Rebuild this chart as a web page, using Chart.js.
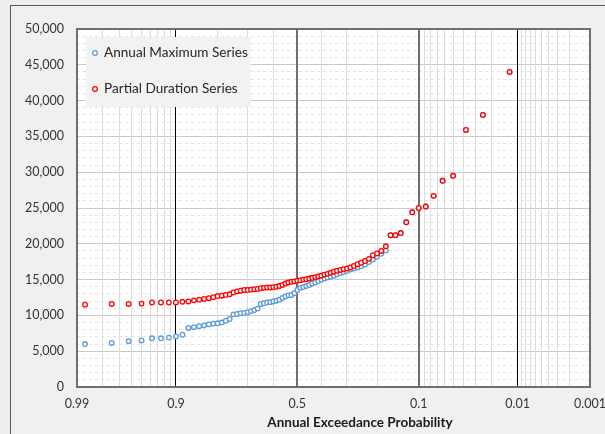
<!DOCTYPE html>
<html lang="en">
<head>
    <meta charset="UTF-8">
    <title>Annual Exceedance Probability</title>
    <style>
        html, body { margin: 0; padding: 0; }
        body { width: 605px; height: 434px; background: #eceeec; position: relative; overflow: hidden; }
        .frame { position: absolute; left: 10px; top: 5px; width: 620px; height: 450px;
                 border-left: 1.5px solid #5a5a5a; border-top: 1.5px solid #5a5a5a; background: #f0f0f0; }
        canvas { position: absolute; left: 0; top: 0; }
    </style>
</head>
<body>
    <div class="frame"></div>
    <canvas id="chart" width="605" height="434"></canvas>

    <script src="https://cdn.jsdelivr.net/npm/chart.js"></script>
    <script>

        // exceedance probability of each ranked value (left to right)
        var aep = [0.9875, 0.975, 0.9625, 0.95, 0.9375, 0.925, 0.9125, 0.9, 0.8875, 0.875,
                   0.8625, 0.85, 0.8375, 0.825, 0.8125, 0.8, 0.7875, 0.775, 0.7625, 0.75,
                   0.7375, 0.725, 0.7125, 0.7, 0.6875, 0.675, 0.6625, 0.65, 0.6375, 0.625,
                   0.6125, 0.6, 0.5875, 0.575, 0.5625, 0.55, 0.5375, 0.525, 0.5125, 0.5,
                   0.4875, 0.475, 0.4625, 0.45, 0.4375, 0.425, 0.4125, 0.4, 0.3875, 0.375,
                   0.3625, 0.35, 0.3375, 0.325, 0.3125, 0.3, 0.2875, 0.275, 0.2625, 0.25,
                   0.2375, 0.225, 0.2125, 0.2, 0.1875, 0.175, 0.1625, 0.15, 0.1375, 0.125,
                   0.1125, 0.1, 0.0875, 0.075, 0.0625, 0.05, 0.0375, 0.025, 0.0125];

        var annualMax = [6000, 6150, 6400, 6500, 6800, 6800, 6900, 7050, 7300, 8250,
                         8350, 8500, 8600, 8750, 8850, 8900, 9000, 9250, 9500, 10150,
                         10200, 10300, 10350, 10450, 10600, 10750, 10950, 11600, 11700, 11800,
                         11850, 11950, 12050, 12200, 12450, 12650, 12800, 12850, 13100, 13550,
                         13850, 13950, 14100, 14250, 14450, 14600, 14800, 15000, 15150, 15300,
                         15400, 15550, 15750, 15900, 16050, 16200, 16400, 16550, 16700, 16850,
                         17100, 17450, 17800, 18200, 18600, 19050, 21200, 21200, 21500, 23000,
                         24400, 25000, 25200, 26700, 28800, 29500, 35900, 38000, 44000];

        var partialDur = [11500, 11600, 11600, 11650, 11800, 11800, 11800, 11800, 11900, 11950,
                          12100, 12200, 12300, 12400, 12550, 12700, 12750, 12850, 12950, 13200,
                          13350, 13450, 13550, 13550, 13600, 13650, 13700, 13800, 13850, 13900,
                          13900, 13950, 14000, 14100, 14250, 14450, 14600, 14700, 14750, 14850,
                          14920, 15000, 15050, 15150, 15250, 15350, 15450, 15550, 15700, 15800,
                          15950, 16100, 16250, 16350, 16450, 16550, 16700, 16900, 17150, 17350,
                          17600, 17900, 18400, 18650, 19000, 19650, 21200, 21200, 21500, 23000,
                          24400, 25000, 25200, 26700, 28800, 29500, 35900, 38000, 44000];

        // probability grid
        var labelProbs = [0.99, 0.9, 0.5, 0.1, 0.01, 0.001];
        var labelText = ["0.99", "0.9", "0.5", "0.1", "0.01", "0.001"];
        var gridProbs = [0.99, 0.98, 0.97, 0.96, 0.95, 0.94, 0.93, 0.92, 0.91, 0.9,
                         0.8, 0.7, 0.6, 0.5, 0.4, 0.3, 0.2, 0.1,
                         0.09, 0.08, 0.07, 0.06, 0.05, 0.04, 0.03, 0.02, 0.01,
                         0.009, 0.008, 0.007, 0.006, 0.005, 0.004, 0.003, 0.002, 0.001];

        // inverse standard normal (Acklam)
        function normInv(p) {
            var a = [-3.969683028665376e+01, 2.209460984245205e+02, -2.759285104469687e+02, 1.383577518672690e+02, -3.066479806614716e+01, 2.506628277459239e+00];
            var b = [-5.447609879822406e+01, 1.615858368580409e+02, -1.556989798598866e+02, 6.680131188771972e+01, -1.328068155288572e+01];
            var c = [-7.784894002430293e-03, -3.223964580411365e-01, -2.400758277161838e+00, -2.549732539343734e+00, 4.374664141464968e+00, 2.938163982698783e+00];
            var d = [7.784695709041462e-03, 3.224671290700398e-01, 2.445134137142996e+00, 3.754408661907416e+00];
            var q, r;
            if (p < 0.02425) {
                q = Math.sqrt(-2 * Math.log(p));
                return (((((c[0]*q+c[1])*q+c[2])*q+c[3])*q+c[4])*q+c[5]) / ((((d[0]*q+d[1])*q+d[2])*q+d[3])*q+1);
            }
            if (p <= 1 - 0.02425) {
                q = p - 0.5; r = q * q;
                return (((((a[0]*r+a[1])*r+a[2])*r+a[3])*r+a[4])*r+a[5])*q / (((((b[0]*r+b[1])*r+b[2])*r+b[3])*r+b[4])*r+1);
            }
            q = Math.sqrt(-2 * Math.log(1 - p));
            return -(((((c[0]*q+c[1])*q+c[2])*q+c[3])*q+c[4])*q+c[5]) / ((((d[0]*q+d[1])*q+d[2])*q+d[3])*q+1);
        }
        // exceedance probability -> position on the probability axis
        function zOf(p) { return normInv(1 - p); }

        function labelIndex(i) {
            var p = gridProbs[i];
            for (var k = 0; k < labelProbs.length; k++) {
                if (Math.abs(labelProbs[k] - p) < 1e-9) return k;
            }
            return -1;
        }

        var amsPoints = aep.map((p, i) => ({ x: zOf(p), y: annualMax[i] }));
        var pdsPoints = aep.map((p, i) => ({ x: zOf(p), y: partialDur[i] }));

        const FONT = "Lato, 'Open Sans', sans-serif";

        const plotFrame = {
            id: 'plotFrame',
            beforeDraw(chart) {
                var a = chart.chartArea, ctx = chart.ctx;
                ctx.save();
                ctx.fillStyle = '#ffffff';
                ctx.fillRect(a.left, a.top, a.right - a.left, a.bottom - a.top);
                ctx.restore();
            },
            beforeDatasetsDraw(chart) {
                var a = chart.chartArea, ctx = chart.ctx;
                ctx.save();
                ctx.strokeStyle = '#6e6e6e';
                ctx.lineWidth = 2;
                ctx.strokeRect(a.left, a.top, a.right - a.left, a.bottom - a.top);
                ctx.restore();
            }
        };

        const extras = {
            id: 'extras',
            afterDraw(chart) {
                var ctx = chart.ctx;
                ctx.save();
                // legend
                ctx.fillStyle = '#f2f2f2';
                ctx.fillRect(86, 37, 165, 70);
                var rows = [53, 89];
                chart.data.datasets.forEach((ds, i) => {
                    ctx.beginPath();
                    ctx.arc(95, rows[i], 2.3, 0, Math.PI * 2);
                    ctx.fillStyle = '#ffffff';
                    ctx.fill();
                    ctx.lineWidth = 1.3;
                    ctx.strokeStyle = ds.borderColor;
                    ctx.stroke();
                    ctx.fillStyle = '#262626';
                    ctx.font = "13.6px " + FONT;
                    ctx.textBaseline = 'middle';
                    ctx.textAlign = 'left';
                    ctx.fillText(ds.label, 104, rows[i]);
                });
                // axis title
                ctx.fillStyle = '#1a1a1a';
                ctx.font = "bold 13.5px " + FONT;
                ctx.textAlign = 'center';
                ctx.textBaseline = 'middle';
                ctx.fillText("Annual Exceedance Probability", 360, 423);
                ctx.restore();
            }
        };

        const chart = new Chart(document.getElementById("chart"), {
            type: 'scatter',
            data: {
                datasets: [{
                    label: "Annual Maximum Series",
                    data: amsPoints,
                    borderColor: '#5b9bd5',
                    backgroundColor: '#ffffff',
                    pointRadius: 2.3,
                    pointBorderWidth: 1.3,
                    order: 2
                }, {
                    label: "Partial Duration Series",
                    data: pdsPoints,
                    borderColor: '#ff0000',
                    backgroundColor: '#ffffff',
                    pointRadius: 2.3,
                    pointBorderWidth: 1.3,
                    order: 1
                }]
            },
            options: {
                responsive: false,
                animation: false,
                events: [],
                layout: { padding: { top: 29, right: 15, bottom: 0, left: 0 } },
                plugins: { legend: { display: false }, tooltip: { enabled: false } },
                scales: {
                    x: {
                        type: 'linear',
                        min: zOf(0.99),
                        max: zOf(0.001),
                        afterBuildTicks: s => { s.ticks = gridProbs.map(p => ({ value: zOf(p) })); },
                        afterFit: s => { s.height = 47; s.paddingLeft = 0; s.paddingRight = 0; },
                        border: { display: false },
                        grid: {
                            z: -1,
                            drawTicks: false,
                            color: ctx => {
                                var k = labelIndex(ctx.index);
                                if (k === 1 || k === 4) return '#000000';
                                if (k === 2 || k === 3) return '#6e6e6e';
                                return '#dcdcdc';
                            },
                            lineWidth: ctx => {
                                var k = labelIndex(ctx.index);
                                if (k === 2 || k === 3) return 2;
                                return 1;
                            }
                        },
                        ticks: {
                            autoSkip: false,
                            maxRotation: 0,
                            padding: 9,
                            color: '#333333',
                            font: { family: FONT, size: 12.5 },
                            callback: (v, i) => { var k = labelIndex(i); return k >= 0 ? labelText[k] : ''; }
                        }
                    },
                    y: {
                        min: 0,
                        max: 50000,
                        afterFit: s => { s.width = 77; },
                        border: { display: false },
                        grid: { z: -2, drawTicks: false, color: '#c8c8c8', lineWidth: 1 },
                        ticks: {
                            stepSize: 5000,
                            padding: 13,
                            color: '#333333',
                            font: { family: FONT, size: 12.5 }
                        }
                    },
                    yMinor: {
                        position: 'left',
                        min: 0,
                        max: 50000,
                        afterFit: s => { s.width = 0; },
                        border: { display: false, dash: [3, 3] },
                        grid: {
                            z: -3,
                            drawTicks: false,
                            color: ctx => (ctx.tick && ctx.tick.value % 5000 === 0) ? 'rgba(0,0,0,0)' : '#e4e4e4'
                        },
                        ticks: { display: false, stepSize: 1000 }
                    }
                }
            },
            plugins: [plotFrame, extras]
        });

    </script>
</body>
</html>
